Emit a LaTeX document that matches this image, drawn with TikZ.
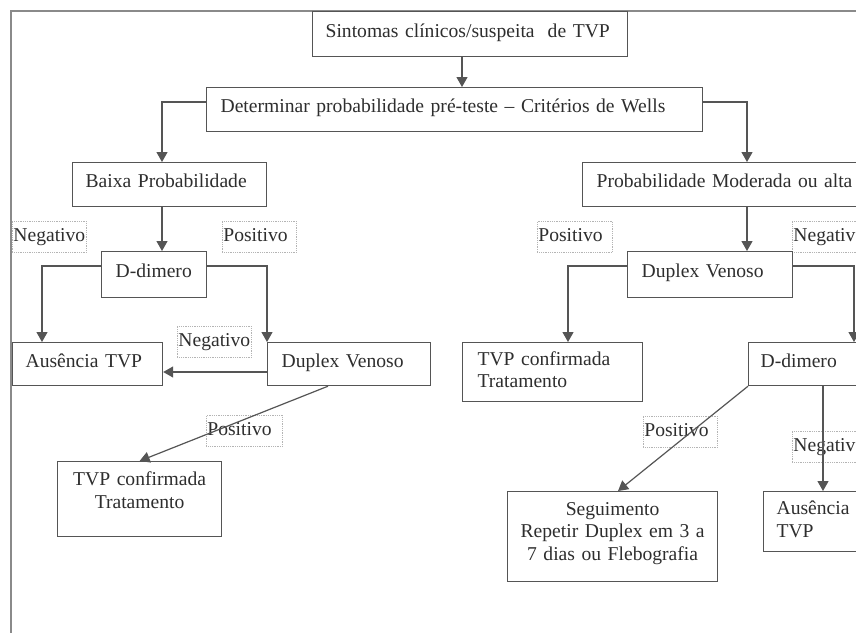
\documentclass[tikz,border=0pt]{standalone}
\usepackage{fontspec}
\setmainfont{Liberation Serif}
\usetikzlibrary{arrows.meta}
\definecolor{linec}{HTML}{555555}
\definecolor{framec}{HTML}{8A8A8A}
\definecolor{textc}{HTML}{2E2E2E}
\definecolor{lblc}{HTML}{B4B4B4}
\begin{document}
\begin{tikzpicture}[x=1pt,y=-1pt,
  every node/.style={font=\fontsize{19.6}{22.5}\selectfont, text=textc},
  box/.style={draw=linec, line width=1.2pt, anchor=north west, inner xsep=13pt, inner ysep=0pt, align=left},
  one/.style={text height=12pt, text depth=6pt},
  lbl/.style={draw=lblc, densely dotted, line width=0.8pt, anchor=north west, minimum height=31pt, inner xsep=1pt, inner ysep=0pt, text width=72pt, align=left, text height=13pt, text depth=4pt},
  conn/.style={draw=linec, line width=1.2pt, -{Triangle[width=11pt,length=10pt]}},
  frameline/.style={draw=framec, line width=1.6pt}
]
\useasboundingbox (0,0) rectangle (856,632);
\begin{scope}
\clip (0,0) rectangle (856,632);
\fill[white] (0,0) rectangle (856,632);
\draw[frameline] (900,11) -- (11,11) -- (11,700);

% labels
\node[lbl] (l1) at (12,221) {\mbox{Negativo}};
\node[lbl] (l2) at (222,221) {\mbox{Positivo}};
\node[lbl] (l3) at (177,326) {\mbox{Negativo}};
\node[lbl, text width=74pt] (l4) at (206,415) {\mbox{Positivo}};
\node[lbl, text width=73pt] (l5) at (537,221) {\mbox{Positivo}};
\node[lbl] (l6) at (792,221) {\mbox{Negativo}};
\node[lbl] (l7) at (643,416) {\mbox{Positivo}};
\node[lbl] (l8) at (792,431) {\mbox{Negativo}};

% boxes
\node[box, one, text width=289pt, minimum height=45pt] (sint) at (312,11) {\mbox{Sintomas clínicos/suspeita~ de TVP}};
\node[box, one, inner xsep=14pt, text width=468pt, minimum height=44pt] (det) at (206,87) {\mbox{Determinar probabilidade pré-teste – Critérios de Wells}};
\node[box, one, text width=168pt, minimum height=44pt] (baixa) at (72,162) {\mbox{Baixa Probabilidade}};
\node[box, one, inner xsep=14pt, text width=262pt, minimum height=44pt] (prob) at (582,162) {\mbox{Probabilidade Moderada ou alta}};
\node[box, one, inner xsep=14pt, text width=77pt, minimum height=46pt] (dd1) at (101,251) {\mbox{D-dimero}};
\node[box, one, text width=124pt, minimum height=43pt] (aus1) at (12,342) {\mbox{Ausência TVP}};
\node[box, one, inner xsep=14pt, text width=135pt, minimum height=43pt] (dup1) at (267,342) {\mbox{Duplex Venoso}};
\node[box, align=center, text width=138pt, minimum height=75pt] (tvp1) at (57,461) {\mbox{TVP confirmada}\\\mbox{Tratamento}\rule[-18pt]{0pt}{18pt}};
\node[box, inner xsep=14pt, text width=137pt, minimum height=46pt, one] (dup2) at (627,251) {\mbox{Duplex Venoso}};
\node[box, inner xsep=15pt, text width=150pt, minimum height=59pt] (tvp2) at (462,342) {\mbox{TVP confirmada}\\\mbox{Tratamento}\rule[-5pt]{0pt}{5pt}};
\node[box, one, inner xsep=12pt, text width=116pt, minimum height=43pt] (dd2) at (748,342) {\mbox{D-dimero}};
\node[box, align=center, text width=184pt, minimum height=90pt] (seg) at (507,491) {\mbox{Seguimento}\\\mbox{Repetir Duplex em 3 a}\\\mbox{7 dias ou Flebografia}\rule[-11pt]{0pt}{11pt}};
\node[box, inner xsep=13pt, text width=84pt, minimum height=60pt] (aus2) at (763,491) {\mbox{Ausência}\\\mbox{TVP}\rule[-5pt]{0pt}{5pt}};

% connectors
\draw[conn] ([xshift=150pt]sint.south west) -- ([xshift=256pt]det.north west);
\draw[conn] ([yshift=-15pt]det.north west) -| ([xshift=90pt]baixa.north west);
\draw[conn] ([yshift=-15pt]det.north east) -| ([xshift=165pt]prob.north west);
\draw[conn] ([xshift=90pt]baixa.south west) -- ([xshift=61pt]dd1.north west);
\draw[conn] ([yshift=-15pt]dd1.north west) -| ([xshift=30pt]aus1.north west);
\draw[conn] ([yshift=-15pt]dd1.north east) -| (dup1.north west);
\draw[conn] ([yshift=-30pt]dup1.north west) -- ([yshift=-30pt]aus1.north east);
\draw[conn] ([xshift=61pt]dup1.south west) -- (tvp1.north);
\draw[conn] ([xshift=165pt]prob.south west) -- ([xshift=120pt]dup2.north west);
\draw[conn] ([yshift=-15pt]dup2.north west) -| ([xshift=106pt]tvp2.north west);
\draw[conn] ([yshift=-15pt]dup2.north east) -| ([xshift=106pt]dd2.north west);
\draw[conn] (dd2.south west) -- ([xshift=111pt]seg.north west);
\draw[conn] ([xshift=75pt]dd2.south west) -- ([xshift=60pt]aus2.north west);
\end{scope}
\end{tikzpicture}
\end{document}
